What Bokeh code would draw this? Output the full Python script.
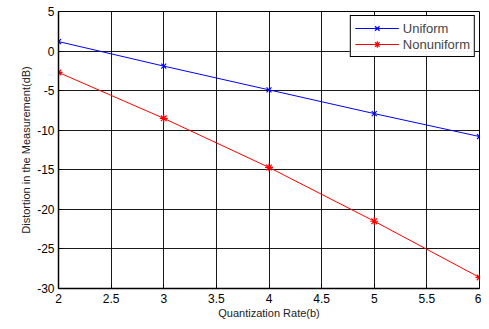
from bokeh.plotting import figure
from bokeh.models import FixedTicker, CustomJSTickFormatter, Range1d
from bokeh.embed import file_html
from bokeh.resources import INLINE

rate = [2, 3, 4, 5, 6]
uniform = [1.2, -1.9, -4.9, -7.9, -10.8]
nonuniform = [-2.7, -8.5, -14.7, -21.5, -28.6]
x_ticks = [2, 2.5, 3, 3.5, 4, 4.5, 5, 5.5, 6]
y_ticks = [-30, -25, -20, -15, -10, -5, 0, 5]

FONT = "Liberation Sans"

p = figure(width=481, height=321, output_backend="svg", toolbar_location=None,
           x_range=Range1d(2, 6), y_range=Range1d(-30, 5),
           min_border_left=58, min_border_top=11, min_border_right=2, min_border_bottom=28)

p.line(rate, uniform, color="#0000ff", line_width=1, legend_label="Uniform")
p.scatter(rate, uniform, marker="x", color="#0000ff", size=7, line_width=1.2, legend_label="Uniform")
p.line(rate, nonuniform, color="#ff0000", line_width=1, legend_label="Nonuniform")
p.scatter(rate, nonuniform, marker="asterisk", color="#ff0000", size=8, line_width=1.2, legend_label="Nonuniform")

p.xaxis.ticker = FixedTicker(ticks=x_ticks)
p.yaxis.ticker = FixedTicker(ticks=y_ticks)
p.xaxis.formatter = CustomJSTickFormatter(code="return String(tick);")
p.yaxis.formatter = CustomJSTickFormatter(code="return String(tick);")

p.xaxis.axis_label = "Quantization Rate(b)"
p.yaxis.axis_label = "Distortion in the Measurement(dB)"

for ax in (p.xaxis, p.yaxis):
    ax.axis_label_text_font = FONT
    ax.axis_label_text_font_size = "11px"
    ax.axis_label_text_font_style = "normal"
    ax.axis_label_text_color = "#222222"
    ax.major_label_text_font = FONT
    ax.major_label_text_font_size = "12px"
    ax.major_label_text_color = "black"
    ax.axis_line_color = "black"
    ax.axis_line_width = 1.5
    ax.major_tick_in = 4
    ax.major_tick_out = 0
    ax.minor_tick_line_color = None
    ax.major_label_standoff = 4
    ax.axis_label_standoff = 2
p.xaxis.major_label_standoff = 5
p.xaxis.axis_label_standoff = 1

p.xgrid.grid_line_color = "black"
p.ygrid.grid_line_color = "black"
p.xgrid.grid_line_alpha = 0.9
p.ygrid.grid_line_alpha = 0.9
p.outline_line_color = "black"
p.outline_line_alpha = 1
p.outline_line_width = 1
p.background_fill_color = "white"
p.border_fill_color = "white"

p.legend.location = "top_right"
p.legend.border_line_color = "black"
p.legend.border_line_alpha = 1
p.legend.label_text_font = FONT
p.legend.label_text_font_size = "13px"
p.legend.glyph_width = 44
p.legend.glyph_height = 16
p.legend.spacing = 0
p.legend.padding = 4
p.legend.margin = 4
p.legend.label_standoff = 4
p.legend.label_height = 16

open("out.html", "w").write(file_html(p, INLINE))
